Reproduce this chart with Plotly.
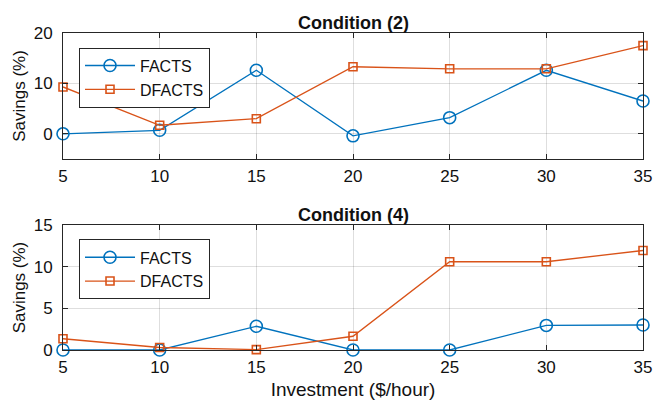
import plotly.graph_objects as go

investment = [5, 10, 15, 20, 25, 30, 35]
facts_c2 = [0.0, 0.7, 12.6, -0.4, 3.2, 12.6, 6.5]
dfacts_c2 = [9.3, 1.7, 3.0, 13.3, 12.9, 12.9, 17.5]
facts_c4 = [0.0, 0.0, 2.85, 0.0, 0.0, 2.95, 3.0]
dfacts_c4 = [1.35, 0.3, 0.05, 1.65, 10.6, 10.6, 11.95]
titles = ["Condition (2)", "Condition (4)"]
x_ticks = [5, 10, 15, 20, 25, 30, 35]
y_ticks_c2 = [0, 10, 20]
y_ticks_c4 = [0, 5, 10, 15]

BLUE = "#0072BD"
ORANGE = "#D95319"
FONT = "Liberation Sans, Arial, Helvetica, sans-serif"

fig = go.Figure()

def add(x, y, name, color, symbol, size, xa, ya, legend):
    fig.add_trace(go.Scatter(
        x=x, y=y, name=name, mode="lines+markers",
        line=dict(color=color, width=1.3),
        marker=dict(symbol=symbol, size=size, color=color,
                    line=dict(color=color, width=1.6)),
        xaxis=xa, yaxis=ya, legend=legend, cliponaxis=False,
        hoverinfo="skip"))

add(investment, facts_c2, "FACTS", BLUE, "circle-open", 12, "x", "y", "legend")
add(investment, dfacts_c2, "DFACTS", ORANGE, "square-open", 8, "x", "y", "legend")
add(investment, facts_c4, "FACTS", BLUE, "circle-open", 12, "x2", "y2", "legend2")
add(investment, dfacts_c4, "DFACTS", ORANGE, "square-open", 8, "x2", "y2", "legend2")

axis_common = dict(
    showline=True, linecolor="#262626", linewidth=1, mirror="allticks",
    ticks="inside", ticklen=5, tickcolor="#262626",
    showgrid=True, gridcolor="rgba(0,0,0,0.13)", gridwidth=1,
    zeroline=False, tickfont=dict(family=FONT, size=17, color="#111"),
    automargin=False,
)

top_dom = [0.6025, 1.0]
bot_dom = [0.0, 0.394]

fig.update_layout(
    width=654, height=400,
    margin=dict(l=63, r=11, t=33, b=50, autoexpand=False),
    paper_bgcolor="white", plot_bgcolor="white",
    font=dict(family=FONT, color="#111"),
    showlegend=True,
    xaxis=dict(axis_common, domain=[0, 1], range=[5, 35], tickvals=x_ticks,
               anchor="y", ticklabelstandoff=2),
    yaxis=dict(axis_common, domain=top_dom, range=[-5, 20], tickvals=y_ticks_c2,
               anchor="x", ticklabelstandoff=6, automargin=True,
               title=dict(text="Savings (%)", font=dict(family=FONT, size=17),
                          standoff=3)),
    xaxis2=dict(axis_common, domain=[0, 1], range=[5, 35], tickvals=x_ticks,
                anchor="y2", ticklabelstandoff=2, automargin=True,
                title=dict(text="Investment ($/hour)", font=dict(family=FONT, size=19),
                           standoff=6)),
    yaxis2=dict(axis_common, domain=bot_dom, range=[0, 15], tickvals=y_ticks_c4,
                anchor="x2", ticklabelstandoff=6, automargin=True,
                title=dict(text="Savings (%)", font=dict(family=FONT, size=17),
                           standoff=3)),
    legend=dict(x=0.0276, y=0.954, xanchor="left", yanchor="top",
                bordercolor="#262626", borderwidth=1, bgcolor="white",
                font=dict(family=FONT, size=16, color="#111"),
                itemwidth=50, tracegroupgap=0),
    legend2=dict(x=0.0276, y=0.349, xanchor="left", yanchor="top",
                 bordercolor="#262626", borderwidth=1, bgcolor="white",
                 font=dict(family=FONT, size=16, color="#111"),
                 itemwidth=50, tracegroupgap=0),
    annotations=[
        dict(text="<b>" + titles[0] + "</b>", xref="paper", yref="paper",
             x=0.5, y=1.0, yshift=-2, xanchor="center", yanchor="bottom",
             showarrow=False, font=dict(family=FONT, size=18, color="#111")),
        dict(text="<b>" + titles[1] + "</b>", xref="paper", yref="paper",
             x=0.5, y=bot_dom[1], yshift=-2, xanchor="center", yanchor="bottom",
             showarrow=False, font=dict(family=FONT, size=18, color="#111")),
    ],
)

fig.write_html(
    "out.html",
    config={"displayModeBar": False},
    post_script="document.body.style.margin='0';document.body.style.overflow='hidden';",
)
